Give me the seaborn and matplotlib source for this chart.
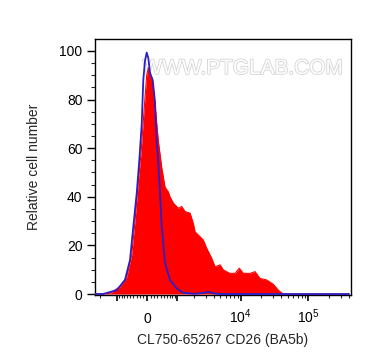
import numpy as np
import pandas as pd
import matplotlib
matplotlib.use("Agg")
import matplotlib.pyplot as plt
import matplotlib.patheffects as pe
from matplotlib.ticker import FixedLocator, MultipleLocator
import seaborn as sns

# ---- data (fluorescence intensity vs relative cell number) ----
sample_x = [-2400, -1967, -1343, -874, -619, -451, -348, -249, -170, -105, -56, -8, 37, 85,
            162, 228, 327, 432, 540, 655, 717, 846, 1061, 1223, 1398, 1696, 1919, 2043,
            2304, 2756, 3108, 3702, 4152, 4955, 5530, 6963, 8260, 9560, 10970, 13780,
            16350, 19380, 24300, 30400, 36100, 42400, 400000]
sample_y = [0, 0, 0.3, 3, 7, 16, 30, 46, 58, 71, 81, 90, 93, 89.5,
            87, 78, 63, 52, 44, 42, 40, 37.4, 35.3, 36, 33.9, 33.3, 29, 25.6,
            24.3, 22.2, 18.8, 14.7, 11.2, 12, 9.9, 8.5, 8.5, 10.6, 8.5, 8.5,
            9.2, 6.4, 5.8, 4.0, 1.6, 0, 0]

control_x = [-2400, -1761, -1016, -681, -507, -401, -296, -220, -150, -105, -56, -8, 37, 85,
             162, 228, 279, 327, 379, 432, 540, 717, 988, 1300, 2000, 2700, 3250, 3900,
             5000, 400000]
control_y = [0, 0, 1.6, 5.8, 14, 27.7, 41.5, 55, 70, 88, 96, 99.3, 97, 91,
             88, 79, 63, 54, 41.5, 28, 13, 5.8, 2.3, 0.5, 0.1, 0.4, 0.9, 0.3,
             0, 0]

x_major = [-1000, 0, 1000, 10000, 100000]
x_major_labels = ["", "0", "", r"$10^{4}$", r"$10^{5}$"]
x_minor = ([-2000] + list(range(-900, 0, 100)) + list(range(100, 1000, 100))
           + list(range(2000, 10000, 1000)) + list(range(20000, 100000, 10000))
           + [200000, 300000, 400000])
y_ticks = [0, 20, 40, 60, 80, 100]

sample = pd.DataFrame({"x": sample_x, "y": sample_y})
control = pd.DataFrame({"x": control_x, "y": control_y})

# ---- style ----
sns.set_style("ticks")
plt.rcParams["font.family"] = ["Liberation Sans", "DejaVu Sans"]
plt.rcParams["mathtext.fontset"] = "custom"
plt.rcParams["mathtext.rm"] = "Liberation Sans"
plt.rcParams["mathtext.it"] = "Liberation Sans:italic"

fig = plt.figure(figsize=(3.72, 3.64), dpi=100)
ax = fig.add_axes([95 / 372, 1 - 295 / 364, 256 / 372, 256 / 364])

C = 830.0
ax.set_xscale("function", functions=(lambda v: np.arcsinh(np.asarray(v) / C),
                                     lambda u: C * np.sinh(np.asarray(u))))

ax.fill_between(sample["x"], sample["y"], 0, color="#ff0000", lw=0, zorder=2)
sns.lineplot(data=sample, x="x", y="y", sort=False, estimator=None,
             color="#ff0000", lw=0.8, ax=ax, zorder=3)
sns.lineplot(data=control, x="x", y="y", sort=False, estimator=None,
             color="#2a1fc8", lw=1.3, ax=ax, zorder=4)

ax.set_xlim(-2363, 428000)
ax.set_ylim(-0.4, 104.9)

ax.xaxis.set_major_locator(FixedLocator(x_major))
ax.set_xticklabels(x_major_labels)
ax.xaxis.set_minor_locator(FixedLocator(x_minor))
ax.set_yticks(y_ticks)
ax.yaxis.set_minor_locator(MultipleLocator(5))

for s in ax.spines.values():
    s.set_visible(True)
    s.set_color("black")
    s.set_linewidth(1.0)

ax.tick_params(axis="y", which="major", length=6, width=1, labelsize=10, pad=3, colors="black")
ax.tick_params(axis="y", which="minor", length=3, width=0.8)
ax.tick_params(axis="x", which="major", length=4.5, width=1.2, labelsize=10, pad=15.5, colors="black")
ax.tick_params(axis="x", which="minor", length=2.5, width=0.8)
for lab in ax.xaxis.get_majorticklabels():
    lab.set_verticalalignment("baseline")

ax.set_xlabel("CL750-65267 CD26 (BA5b)", fontsize=10)
ax.set_ylabel("Relative cell number", fontsize=10)
ax.xaxis.set_label_coords(0.5, -0.148)
ax.yaxis.set_label_coords(-0.211, 0.5)

ax.text(0.97, 0.885, "WWW.PTGLAB.COM", transform=ax.transAxes, ha="right", va="center",
        fontsize=15, color="white", zorder=1,
        path_effects=[pe.withStroke(linewidth=1.2, foreground="#d4d4d4")])

fig.savefig("out.png", dpi=100)
